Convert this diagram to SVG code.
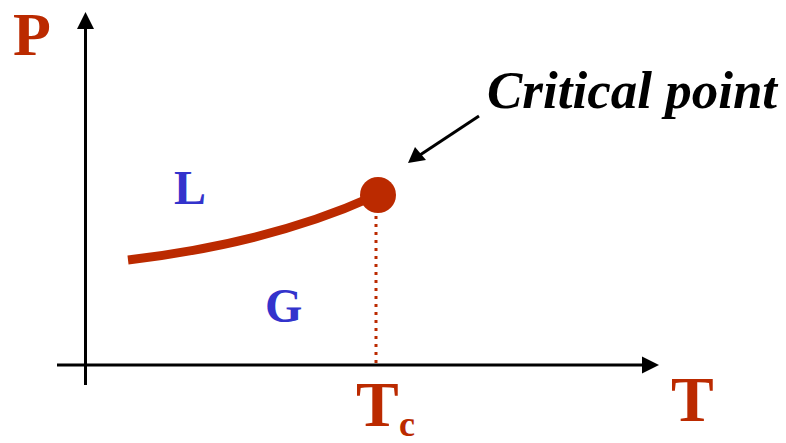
<svg xmlns="http://www.w3.org/2000/svg" width="786" height="443" viewBox="0 0 786 443">
<style>
.red{fill:#BB2A00;font-family:"Liberation Serif",serif;font-weight:bold}
.blue{fill:#3333CC;font-family:"Liberation Serif",serif;font-weight:bold}
.ax{stroke:#000;stroke-width:3;fill:none}
</style>
<rect width="786" height="443" fill="#fff"/>
<g id="connectors">
<line class="ax" x1="85.5" y1="385" x2="85.5" y2="28"/>
<path d="M77,29 L85.5,12 L94,29 Z" fill="#000"/>
<line class="ax" x1="57" y1="365" x2="643" y2="365"/>
<path d="M642,356.5 L659,365 L642,373.5 Z" fill="#000"/>
<path d="M128,260 Q270,243 372,197" stroke="#BB2A00" stroke-width="9" fill="none"/>
<line x1="376" y1="216" x2="376" y2="366" stroke="#BB2A00" stroke-width="3" stroke-dasharray="3,5"/>
<line x1="479" y1="116" x2="420" y2="155" stroke="#000" stroke-width="3"/>
<path d="M408,163 L415,147 L426,160 Z" fill="#000"/>
</g>
<g id="critical-point"><circle cx="378" cy="195" r="18" fill="#BB2A00"/></g>
<g id="labels">
<text class="red" x="13" y="55" font-size="62">P</text>
<text class="red" x="671" y="421" font-size="64">T</text>
<text class="red" x="356" y="426" font-size="64">T</text>
<text class="red" x="399" y="436" font-size="36">c</text>
<text class="blue" x="174" y="204" font-size="48">L</text>
<text class="blue" x="265" y="322" font-size="48">G</text>
<text x="487" y="108" font-size="53" font-family="Liberation Serif,serif" font-weight="bold" font-style="italic" fill="#000">Critical point</text>
</g>
</svg>
